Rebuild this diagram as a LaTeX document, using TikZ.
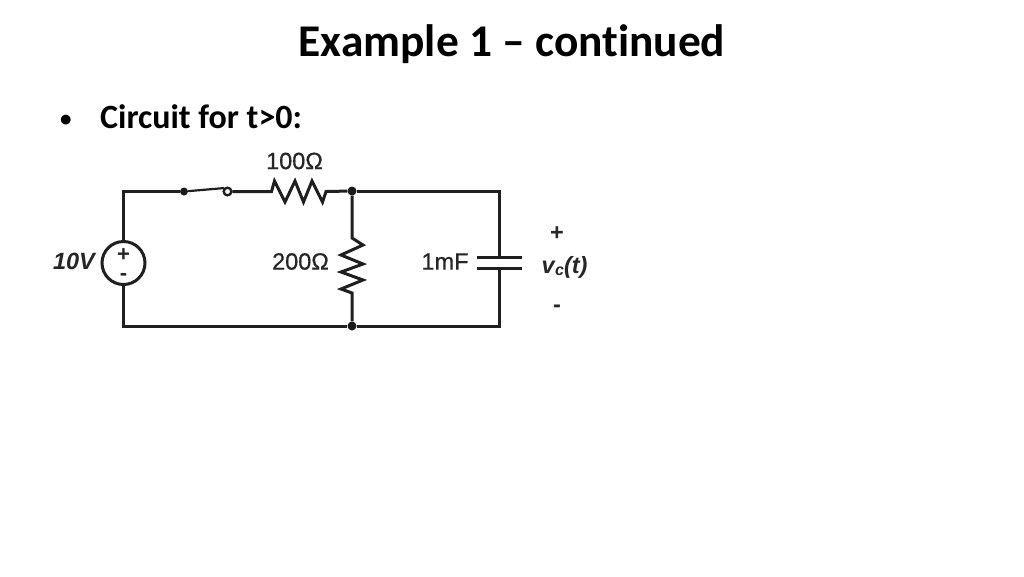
\documentclass[tikz,border=0pt]{standalone}
\usepackage{fontspec}
\setmainfont{Liberation Sans}
\newfontfamily\slidefont[Ligatures=NoCommon]{Carlito}
\newfontfamily\semif[FakeBold=0.6]{Liberation Sans}
\tikzset{
  wire/.style={line width=3pt,draw=black!88,line join=miter},
  thinwire/.style={line width=2.2pt,draw=black!88},
  jdot/.style={circle,fill=black!90,inner sep=0pt,minimum size=9pt},
  opendot/.style={circle,draw=black!88,fill=white,line width=2.2pt,inner sep=0pt,minimum size=7.5pt},
  srcring/.style={circle,draw=black!88,fill=white,line width=3pt,inner sep=0pt,minimum size=43pt},
  lab/.style={inner sep=0pt,text=black!85,font=\semif\fontsize{23.5}{26}\selectfont},
  labb/.style={inner sep=0pt,text=black!85,font=\bfseries\fontsize{23.5}{26}\selectfont},
  srclab/.style={inner sep=0pt,text=black!85,font=\bfseries\fontsize{22}{22}\selectfont},
  title/.style={inner sep=0pt,font=\slidefont\bfseries\fontsize{45.4}{54}\selectfont},
  bodytext/.style={inner sep=0pt,font=\slidefont\bfseries\fontsize{34}{40}\selectfont}
}
\begin{document}
\begin{tikzpicture}[x=1pt,y=-1pt]
\useasboundingbox (0,0) rectangle (1024,576);
\fill[white] (0,0) rectangle (1024,576);
\node[title] (ttl) at (512,44.5) {Example 1 – continued};
\node[inner sep=0pt,anchor=base west,font=\slidefont\bfseries\fontsize{23}{28}\selectfont] (bul) at (60,126) {•};
\node[bodytext,anchor=base west] (body) at (100,128.5) {Circuit for t>0:};
% corners and junctions
\coordinate (tl) at (123.5,191.5);
\coordinate (bl) at (123.5,326);
\coordinate (tr) at (499,191);
\coordinate (br) at (499,326);
\node[jdot] (jt) at (352,191) {};
\node[jdot] (jb) at (352,326) {};
\node[jdot,minimum size=8pt] (sa) at (184,191.5) {};
\node[opendot] (sb) at (227.5,191.5) {};
\node[srcring] (src) at (123.5,263) {};
\coordinate (capA) at (499,257.5);
\coordinate (capB) at (499,268.7);
% wires
\draw[wire] (src.north) -- (tl) -- (sa);
\draw[wire] (src.south) -- (bl) -- (jb) -- (br) -- (capB);
\draw[wire] (capA) -- (tr) -- (jt);
\draw[thinwire] (sa) -- (sb.north west);
\draw[wire] (sb) -- (271.5,191.5) -- (274.5,181) -- (285,202) -- (295,181) -- (303.5,202) -- (312,181) -- (322.5,202) -- (326,191.5) -- (jt);
\node[opendot] (sbtop) at (sb) {};
\draw[wire] (jt) -- (352,238) -- (363,245) -- (341,255) -- (363,264) -- (341,272) -- (363,280) -- (341,289) -- (352,293) -- (jb);
% capacitor plates
\draw[wire] (477,257.5) -- (522,257.5);
\draw[wire] (477,268.7) -- (522,268.7);
% labels
\node[srclab] (lplus) at (123.5,255.5) {+};
\node[srclab] (lminus) at (123.5,277) {-};
\node[labb,font=\bfseries\itshape\fontsize{23.5}{26}\selectfont] (lv) at (74,261.5) {10V};
\node[lab] (r1) at (294.5,161) {100Ω};
\node[lab] (r2) at (300.5,261.5) {200Ω};
\node[lab] (c1) at (445,261.5) {1mF};
\node[labb] (vp) at (557,233.5) {+};
\node[labb,font=\bfseries\itshape\fontsize{23.5}{26}\selectfont] (vc) at (564.5,267) {v\kern0.5pt\raisebox{-2pt}{\fontsize{16}{16}\selectfont c}(t)};
\node[labb] (vm) at (557,309) {-};
\end{tikzpicture}
\end{document}
